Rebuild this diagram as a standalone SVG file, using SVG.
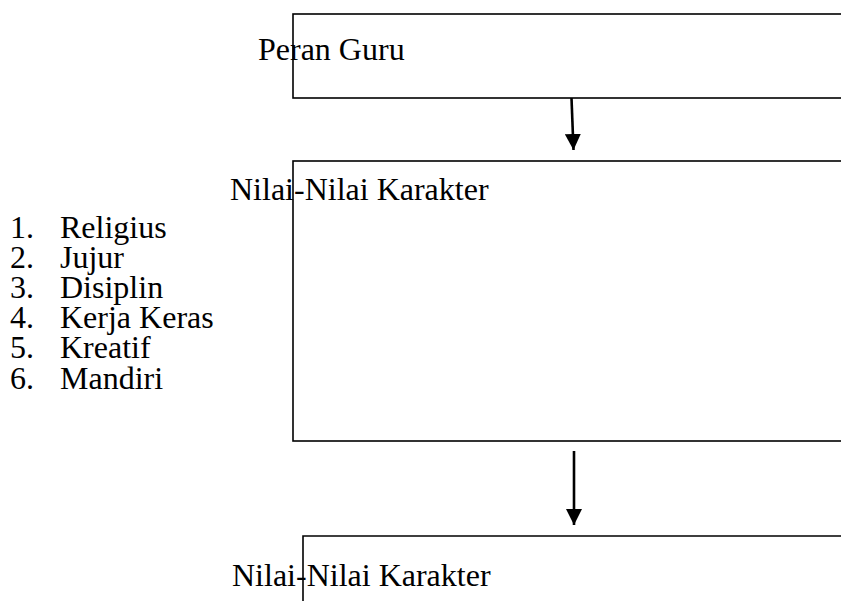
<svg xmlns="http://www.w3.org/2000/svg" width="841" height="601" viewBox="0 0 841 601">
<style>
.box{fill:none;stroke:#000;stroke-width:1.6}
.t{font-family:"Liberation Serif","Times New Roman",serif;font-size:32px;fill:#000}
.c{stroke:#000;stroke-width:2.6;fill:none}
</style>
<defs>
<marker id="ah" viewBox="0 0 16 16" refX="16" refY="8" markerWidth="16" markerHeight="16" markerUnits="userSpaceOnUse" orient="auto">
<path d="M0,0 L16,8 L0,16 z" fill="#000"/>
</marker>
</defs>
<rect width="841" height="601" fill="#fff"/>
<g id="node-peran-guru">
<rect class="box" x="293" y="14" width="600" height="84"/>
<text class="t" x="258" y="60">Peran Guru</text>
</g>
<g id="node-nilai-1">
<rect class="box" x="293" y="161" width="600" height="280"/>
<text class="t" x="230" y="200">Nilai-Nilai Karakter</text>
</g>
<g id="list">
<text class="t" x="10" y="238">1.</text><text class="t" x="60" y="238">Religius</text>
<text class="t" x="10" y="268">2.</text><text class="t" x="60" y="268">Jujur</text>
<text class="t" x="10" y="298">3.</text><text class="t" x="60" y="298">Disiplin</text>
<text class="t" x="10" y="328">4.</text><text class="t" x="60" y="328">Kerja Keras</text>
<text class="t" x="10" y="358">5.</text><text class="t" x="60" y="358">Kreatif</text>
<text class="t" x="10" y="389">6.</text><text class="t" x="60" y="389">Mandiri</text>
</g>
<g id="node-nilai-2">
<path class="box" d="M303,610 V536 H900"/>
<text class="t" x="232" y="586">Nilai-Nilai Karakter</text>
</g>
<g id="connectors">
<line class="c" x1="571.5" y1="98" x2="573.5" y2="150" marker-end="url(#ah)"/>
<line class="c" x1="574" y1="451" x2="574" y2="525" marker-end="url(#ah)"/>
</g>
</svg>
